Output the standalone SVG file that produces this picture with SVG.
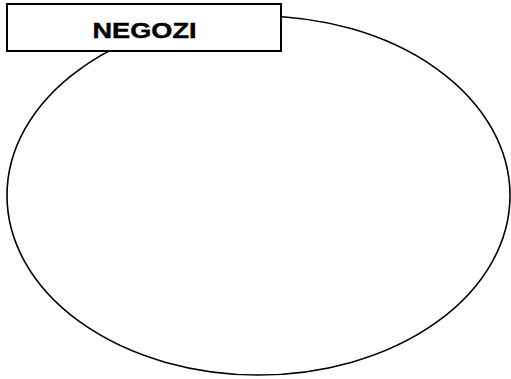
<svg xmlns="http://www.w3.org/2000/svg" width="511" height="379" viewBox="0 0 511 379">
<style>
.shape{fill:#fff;stroke:#000}
.lbl{font-family:"Liberation Sans",Arial,sans-serif;font-weight:bold;font-size:22px;fill:#000;stroke:#000;stroke-width:0.4}
</style>
<rect width="511" height="379" fill="#fff"/>
<g id="ellipse-node">
<ellipse class="shape" stroke-width="1.6" cx="258.5" cy="195.5" rx="251.5" ry="179.5"/>
</g>
<g id="negozi-label">
<rect class="shape" stroke-width="2" x="7" y="4" width="274" height="47"/>
<text class="lbl" x="144.5" y="38" text-anchor="middle" textLength="104" lengthAdjust="spacingAndGlyphs">NEGOZI</text>
</g>
<g id="connectors"/>
</svg>
